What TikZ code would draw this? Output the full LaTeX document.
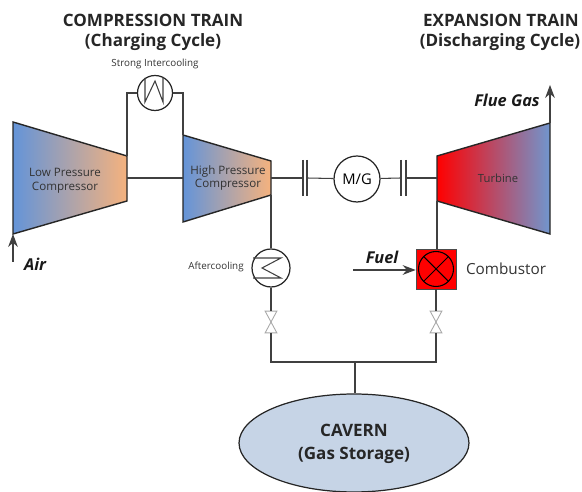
\documentclass[tikz,border=0pt]{standalone}
\usepackage{fontspec}
\setmainfont{Open Sans}
\usetikzlibrary{arrows.meta, shapes.geometric}
\definecolor{compblue}{HTML}{6494D8}
\definecolor{comporange}{HTML}{F5B27E}
\definecolor{turbblue}{HTML}{7096CE}
\definecolor{cavernblue}{HTML}{C6D4E6}
\definecolor{valvegray}{HTML}{A8A8A8}
\definecolor{textgray}{HTML}{333333}
\tikzset{
    pipe/.style={draw=black!75, line width=0.6pt},
    casing/.style={draw=black!85, line width=0.8pt},
    round unit/.style={draw=black!85, shape=circle, line width=0.7pt, fill=white, inner sep=0pt},
    valve box/.style={shape=rectangle, minimum width=0.22cm, minimum height=0.42cm, inner sep=0pt},
    title/.style={font=\fontsize{9.7}{11}\selectfont\bfseries, text=black!85},
    small label/.style={font=\fontsize{5.6}{6.6}\selectfont, text=textgray},
    unit label/.style={font=\fontsize{6.6}{7.8}\selectfont, text=textgray, align=center},
    flow label/.style={font=\fontsize{9.3}{11}\selectfont\bfseries\itshape, text=black!90},
}
\begin{document}
\begin{tikzpicture}[x=0.02cm, y=-0.02cm]

    \useasboundingbox (0,0) rectangle (582,492);

    % corners of the machines
    \coordinate(lp1) at (13,122);
    \coordinate(lp2) at (127,156);
    \coordinate(lp3) at (127,201);
    \coordinate(lp4) at (13,234);
    \coordinate(hp1) at (183,135);
    \coordinate(hp2) at (271,161);
    \coordinate(hp3) at (271,195);
    \coordinate(hp4) at (183,222);
    \coordinate(tb1) at (437,156);
    \coordinate(tb2) at (550,123);
    \coordinate(tb3) at (550,234);
    \coordinate(tb4) at (437,201);

    \shadedraw[casing, left color=compblue, right color=comporange] (lp1) -- (lp2) -- (lp3) -- (lp4) -- cycle;
    \shadedraw[casing, left color=compblue, right color=comporange] (hp1) -- (hp2) -- (hp3) -- (hp4) -- cycle;
    \shadedraw[casing, left color=red, right color=turbblue] (tb1) -- (tb2) -- (tb3) -- (tb4) -- cycle;

    % shaft
    \coordinate(lps) at (127,178);
    \coordinate(hpl) at (183,178);
    \coordinate(hpr) at (271,178);
    \coordinate(tbl) at (437,178);
    \coordinate(c1a) at (303,178);
    \coordinate(c1b) at (307,178);
    \coordinate(c2a) at (401,178);
    \coordinate(c2b) at (406,178);
    \node(mg)[round unit, minimum size=0.92cm, font=\fontsize{8.4}{10}\selectfont] at (357,179) {M/G};

    \draw[pipe] (lps) -- (hpl);
    \draw[pipe] (hpr) -- (c1a);
    \draw[pipe] (c1b) -- (mg);
    \draw[pipe] (mg) -- (c2a);
    \draw[pipe] (c2b) -- (tbl);

    \foreach \x in {c1a, c1b, c2a, c2b}
    {
        \draw[pipe] ([yshift=0.36cm]\x) -- ([yshift=-0.36cm]\x);
    }

    % intercooler
    \node(ic)[round unit, minimum size=0.7cm] at (155,93) {};
    \draw[pipe] (lp2) |- (ic);
    \draw[pipe] (hp1) |- (ic);
    \draw[pipe] (145,78) -- (145,102) -- (155,81) -- (163,102) -- (163,77);

    % aftercooler
    \node(ac)[round unit, minimum size=0.76cm] at (271,268) {};
    \draw[pipe] (hp3) -- (ac);
    \draw[pipe] (253,258) -- (281,258) -- (262,268) -- (281,278) -- (253,278);

    % combustor
    \node(cb)[draw=black!70, shape=rectangle, fill=red, minimum size=0.8cm, inner sep=0pt] at (436,269) {};
    \node(cc)[draw=black, shape=circle, minimum size=0.7cm, inner sep=0pt, line width=0.6pt] at (436,269) {};
    \draw[black, line width=0.6pt] (cc.north west) -- (cc.south east);
    \draw[black, line width=0.6pt] (cc.north east) -- (cc.south west);
    \draw[pipe] (tb4) -- (tb4 |- cb.north);

    % valves and header
    \node(v1)[valve box] at (271,322) {};
    \node(v2)[valve box] at (436,322) {};
    \foreach \x in {v1, v2}
    {
        \draw[valvegray, line width=0.5pt, fill=white] (\x.north west) -- (\x.south east) -- (\x.south west) -- (\x.north east) -- cycle;
    }
    \coordinate(hdl) at (271,362);
    \coordinate(hdr) at (436,362);
    \coordinate(hdm) at (355,362);
    \node(cav)[draw=black!85, shape=ellipse, fill=cavernblue, line width=0.7pt, minimum width=4.6cm, minimum height=1.96cm, inner sep=0pt] at (354,443) {};

    \draw[pipe] (ac) -- (v1);
    \draw[pipe] (cb) -- (v2);
    \draw[pipe] (v1) -- (hdl) -- (hdr) -- (v2);
    \draw[pipe] (hdm) -- (hdm |- cav.north);

    % flows
    \coordinate(air) at (13,262);
    \coordinate(flue) at (550,85);
    \coordinate(fuel) at (353,270);
    \draw[pipe, -{Stealth[scale=1.3]}] (air) -- (lp4);
    \draw[pipe, -{Stealth[scale=1.3]}] (tb2) -- (flue);
    \draw[pipe, -{Stealth[scale=1.3]}] (fuel) -- (cb.west |- fuel);

    % labels
    \node(t1)[title] at (153,20) {COMPRESSION TRAIN};
    \node(t2)[title] at (153,42) {(Charging Cycle)};
    \node(t3)[title] at (501,20) {EXPANSION TRAIN};
    \node(t4)[title] at (500,42) {(Discharging Cycle)};
    \node(t5)[small label] at (155,64) {Strong Intercooling};
    \node(t6)[small label] at (216,267) {Aftercooling};
    \node(t7)[unit label] at (65,181) {Low Pressure\\Compressor};
    \node(t8)[unit label] at (228,178) {High Pressure\\Compressor};
    \node(t9)[small label, font=\fontsize{6.4}{7.6}\selectfont] at (498,178) {Turbine};
    \node(t10)[flow label] at (35,264) {Air};
    \node(t11)[flow label] at (507,100) {Flue Gas};
    \node(t12)[flow label] at (382,257) {Fuel};
    \node(t13)[font=\fontsize{8.7}{10}\selectfont, text=textgray] at (506,269) {Combustor};
    \node(t14)[title, align=center] at (354,444) {CAVERN\\[2pt](Gas Storage)};
    \end{tikzpicture}
\end{document}
